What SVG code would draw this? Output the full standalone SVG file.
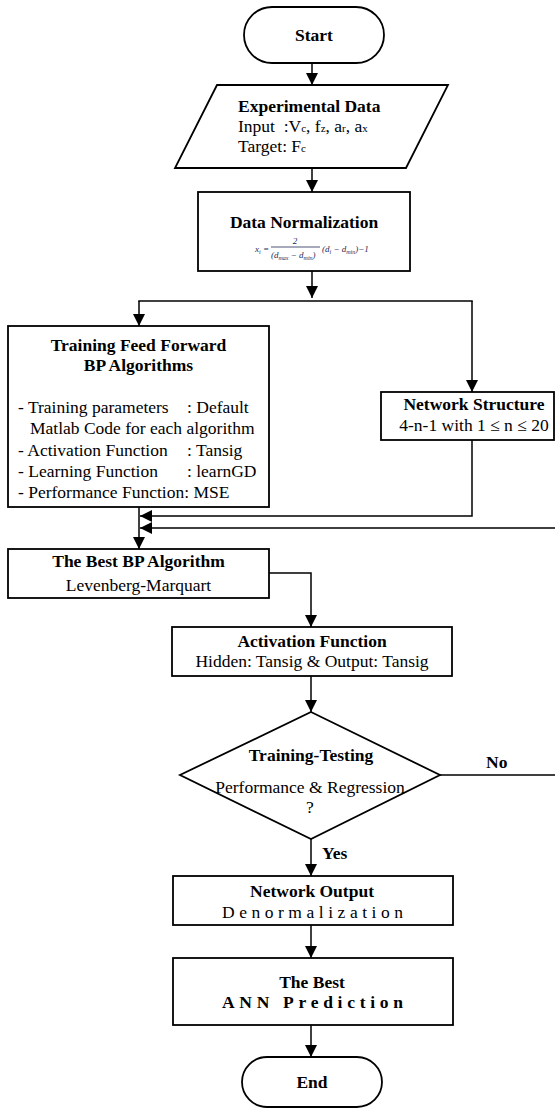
<svg xmlns="http://www.w3.org/2000/svg" width="555" height="1109" viewBox="0 0 555 1109">
<style>
.box{fill:#fff;stroke:#000;stroke-width:1.8}
.con{fill:none;stroke:#000;stroke-width:1.5}
text{font-family:"Liberation Serif","Times New Roman",serif;font-size:17.5px;fill:#000}
.b{font-weight:bold}
.c{text-anchor:middle}
.s{font-size:11px}
.f{font-family:"Liberation Serif",serif;font-style:italic;font-size:9px;fill:#1f2a55}
</style>
<defs>
<marker id="ah" viewBox="0 0 12 12" refX="12" refY="6" markerWidth="12" markerHeight="12" markerUnits="userSpaceOnUse" orient="auto">
<path d="M0,0 L12,6 L0,12 Z" fill="#000"/>
</marker>
</defs>

<g id="connectors">
<line class="con" x1="312" y1="63" x2="312" y2="85" marker-end="url(#ah)"/>
<line class="con" x1="312" y1="168" x2="312" y2="192" marker-end="url(#ah)"/>
<line class="con" x1="312" y1="271" x2="312" y2="298" marker-end="url(#ah)"/>
<line class="con" x1="138.25" y1="301" x2="472.75" y2="301"/>
<line class="con" x1="139" y1="301" x2="139" y2="326" marker-end="url(#ah)"/>
<line class="con" x1="472" y1="301" x2="472" y2="392" marker-end="url(#ah)"/>
<path class="con" d="M472,440 V516 H140" marker-end="url(#ah)"/>
<path class="con" d="M440,775 H557 V528 H140" marker-end="url(#ah)"/>
<line class="con" x1="139" y1="507" x2="139" y2="549" marker-end="url(#ah)"/>
<path class="con" d="M269,573 H311 V627" marker-end="url(#ah)"/>
<line class="con" x1="311" y1="676" x2="311" y2="712" marker-end="url(#ah)"/>
<line class="con" x1="311" y1="839" x2="311" y2="876" marker-end="url(#ah)"/>
<line class="con" x1="311" y1="925" x2="311" y2="958" marker-end="url(#ah)"/>
<line class="con" x1="311" y1="1025" x2="311" y2="1057" marker-end="url(#ah)"/>
<text class="b" x="486" y="768">No</text>
<text class="b" x="322" y="859">Yes</text>
</g>

<g id="start">
<rect class="box" x="244" y="7" width="140" height="56" rx="28"/>
<text class="b c" x="314" y="41">Start</text>
</g>

<g id="experimental-data">
<polygon class="box" points="217,85 448,85 406,168 175,168"/>
<text class="b" x="238" y="112">Experimental Data</text>
<text x="238" y="132">Input&#160;&#160;:V<tspan class="s">c</tspan>, f<tspan class="s">z</tspan>, a<tspan class="s">r</tspan>, a<tspan class="s">x</tspan></text>
<text x="238" y="152">Target: F<tspan class="s">c</tspan></text>
</g>

<g id="data-normalization">
<rect class="box" x="198" y="192" width="212" height="79"/>
<text class="b c" x="304" y="228">Data Normalization</text>
<text class="f" x="255" y="252">x<tspan font-size="6" dy="1.5">i</tspan><tspan dy="-1.5"> =</tspan></text>
<text class="f c" x="295" y="244">2</text>
<line x1="271" y1="247" x2="320" y2="247" stroke="#1f2a55" stroke-width="0.8"/>
<text class="f" x="271" y="258">(d<tspan font-size="6" dy="1.5">max</tspan><tspan dy="-1.5"> − d</tspan><tspan font-size="6" dy="1.5">min</tspan><tspan dy="-1.5">)</tspan></text>
<text class="f" x="322" y="252">(d<tspan font-size="6" dy="1.5">i</tspan><tspan dy="-1.5"> − d</tspan><tspan font-size="6" dy="1.5">min</tspan><tspan dy="-1.5">)−1</tspan></text>
</g>

<g id="training">
<rect class="box" x="8" y="326" width="261" height="181"/>
<text class="b c" x="138.5" y="351">Training Feed Forward</text>
<text class="b c" x="138.5" y="371">BP Algorithms</text>
<text x="18" y="413">- Training parameters</text>
<text x="187" y="413">: Default</text>
<text x="30" y="434">Matlab Code for each algorithm</text>
<text x="18" y="456">- Activation Function</text>
<text x="187" y="456">: Tansig</text>
<text x="18" y="477">- Learning Function</text>
<text x="187" y="477">: learnGD</text>
<text x="18" y="498">- Performance Function: MSE</text>
</g>

<g id="network-structure">
<rect class="box" x="381" y="392" width="173" height="48"/>
<text class="b c" x="474" y="410">Network Structure</text>
<text class="c" x="474" y="431">4-n-1 with 1 ≤ n ≤ 20</text>
</g>

<g id="best-bp">
<rect class="box" x="8" y="549" width="261" height="49"/>
<text class="b c" x="138.5" y="567">The Best BP Algorithm</text>
<text class="c" x="138.5" y="591">Levenberg-Marquart</text>
</g>

<g id="activation">
<rect class="box" x="172" y="627" width="280" height="49"/>
<text class="b c" x="312" y="647">Activation Function</text>
<text class="c" x="312" y="667">Hidden: Tansig &amp; Output: Tansig</text>
</g>

<g id="training-testing">
<polygon class="box" points="311,712 440,775 311,839 180,775"/>
<text class="b c" x="311" y="761">Training-Testing</text>
<text class="c" x="310" y="793">Performance &amp; Regression</text>
<text class="c" x="310" y="813">?</text>
</g>

<g id="network-output">
<rect class="box" x="173" y="876" width="280" height="49"/>
<text class="b c" x="312" y="897">Network Output</text>
<text x="222" y="918" textLength="181" lengthAdjust="spacing">Denormalization</text>
</g>

<g id="best-ann">
<rect class="box" x="173" y="958" width="280" height="67"/>
<text class="b c" x="312" y="988">The Best</text>
<text class="b" x="222" y="1008" textLength="181" lengthAdjust="spacing">ANN Prediction</text>
</g>

<g id="end">
<rect class="box" x="242" y="1057" width="140" height="50" rx="25"/>
<text class="b c" x="312" y="1088">End</text>
</g>
</svg>
